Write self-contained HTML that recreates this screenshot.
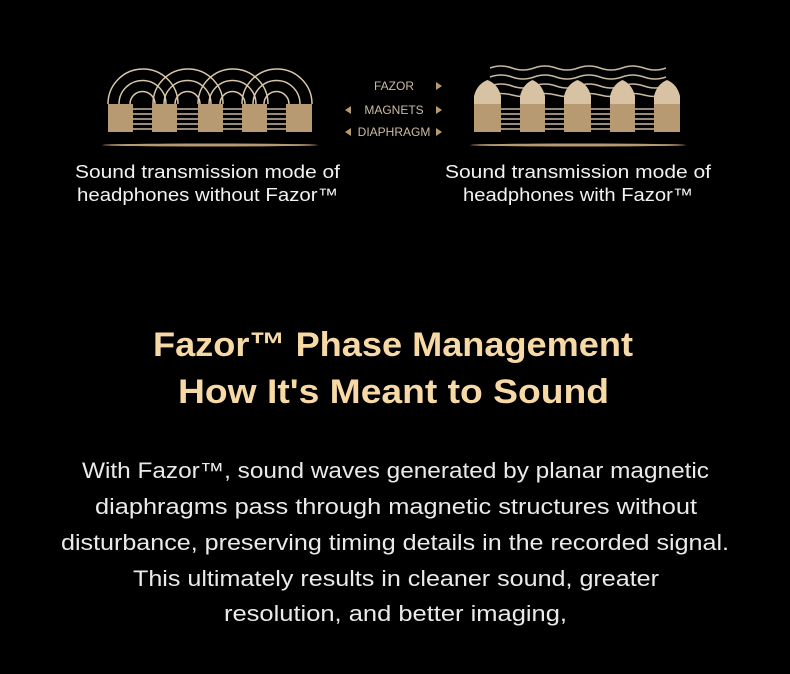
<!DOCTYPE html>
<html><head><meta charset="utf-8"><style>
html,body{margin:0;padding:0;background:#000;}
svg{display:block}
text{font-family:"Liberation Sans",sans-serif;}
</style></head><body>
<svg width="790" height="674" viewBox="0 0 790 674" xmlns="http://www.w3.org/2000/svg">
<rect width="790" height="674" fill="#000"/>
<!-- LEFT DIAGRAM -->
<g fill="#b89a72">
<rect x="108" y="104" width="25" height="28"/>
<rect x="152" y="104" width="25" height="28"/>
<rect x="198" y="104" width="25" height="28"/>
<rect x="242" y="104" width="25" height="28"/>
<rect x="286" y="104" width="26" height="28"/>
</g>
<g stroke="#c9b9a0" stroke-width="1.5">
<path d="M133 109H152M133 114H152M133 119H152M133 124H152M133 129H152"/>
<path d="M177 109H198M177 114H198M177 119H198M177 124H198M177 129H198"/>
<path d="M223 109H242M223 114H242M223 119H242M223 124H242M223 129H242"/>
<path d="M267 109H286M267 114H286M267 119H286M267 124H286M267 129H286"/>
</g>
<g fill="none" stroke="#d8c7ab" stroke-width="1.5">
<path d="M130 104A12.5 12.5 0 0 1 155 104M119 104A23.5 23.5 0 0 1 166 104M108 104A35 35 0 0 1 178 104"/>
<path d="M175 104A12.5 12.5 0 0 1 200 104M164 104A23.5 23.5 0 0 1 211 104M153 104A35 35 0 0 1 223 104"/>
<path d="M220 104A12.5 12.5 0 0 1 245 104M209 104A23.5 23.5 0 0 1 256 104M198 104A35 35 0 0 1 268 104"/>
<path d="M264 104A12.5 12.5 0 0 1 289 104M253 104A23.5 23.5 0 0 1 300 104M242 104A35 35 0 0 1 312 104"/>
</g>
<ellipse cx="210" cy="145" rx="108" ry="1.5" fill="#b89a72"/>
<!-- RIGHT DIAGRAM -->
<g fill="none" stroke="#c9b9a0" stroke-width="1.5">
<path d="M490 68q11-4 22 0t22 0t22 0t22 0t22 0t22 0t22 0t22 0"/>
<path d="M490 77q11-4 22 0t22 0t22 0t22 0t22 0t22 0t22 0t22 0"/>
<path d="M490 86q11-4 22 0t22 0t22 0t22 0t22 0t22 0t22 0t22 0"/>
<path d="M490 95q11-3 22 0t22 0t22 0t22 0t22 0t22 0t22 0t22 0"/>
</g>
<g stroke="#c9b9a0" stroke-width="1.5">
<path d="M501 109H520M501 114H520M501 119H520M501 124H520M501 129H520"/>
<path d="M545 109H564M545 114H564M545 119H564M545 124H564M545 129H564"/>
<path d="M591 109H610M591 114H610M591 119H610M591 124H610M591 129H610"/>
<path d="M635 109H654M635 114H654M635 119H654M635 124H654M635 129H654"/>
</g>
<g>
<path d="M474 104V96Q477 84 487.5 80Q498 84 501 96V104Z" fill="#d8c2a4"/>
<path d="M520 104V96Q523 84 532.5 80Q542 84 545 96V104Z" fill="#d8c2a4"/>
<path d="M564 104V96Q567 84 577.5 80Q588 84 591 96V104Z" fill="#d8c2a4"/>
<path d="M610 104V96Q613 84 622.5 80Q632 84 635 96V104Z" fill="#d8c2a4"/>
<path d="M654 104V96Q657 84 667 80Q677 84 680 96V104Z" fill="#d8c2a4"/>
</g>
<g fill="#b89a72">
<rect x="474" y="104" width="27" height="28"/>
<rect x="520" y="104" width="25" height="28"/>
<rect x="564" y="104" width="27" height="28"/>
<rect x="610" y="104" width="25" height="28"/>
<rect x="654" y="104" width="26" height="28"/>
</g>
<ellipse cx="578" cy="145" rx="108" ry="1.5" fill="#b89a72"/>
<!-- labels -->
<g fill="#cbbba3" font-size="12">
<text x="394" y="90" text-anchor="middle">FAZOR</text>
<text x="394" y="114" text-anchor="middle">MAGNETS</text>
<text x="394" y="136" text-anchor="middle">DIAPHRAGM</text>
</g>
<g fill="#b89a72">
<path d="M436 82l6 4l-6 4z"/>
<path d="M436 106l6 4l-6 4z"/>
<path d="M436 128l6 4l-6 4z"/>
<path d="M351 106l-6 4l6 4z"/>
<path d="M351 128l-6 4l6 4z"/>
</g>
<!-- captions -->
<g fill="#f2f2f2" font-size="18">
<text x="75" y="178" textLength="265" lengthAdjust="spacingAndGlyphs">Sound transmission mode of</text>
<text x="77" y="201" textLength="261" lengthAdjust="spacingAndGlyphs">headphones without Fazor™</text>
<text x="445" y="178" textLength="266" lengthAdjust="spacingAndGlyphs">Sound transmission mode of</text>
<text x="463" y="201" textLength="230" lengthAdjust="spacingAndGlyphs">headphones with Fazor™</text>
</g>
<!-- heading -->
<g fill="#f7d9a6" font-size="34" font-weight="bold">
<text x="153" y="356" textLength="480" lengthAdjust="spacingAndGlyphs">Fazor™ Phase Management</text>
<text x="178" y="403" textLength="431" lengthAdjust="spacingAndGlyphs">How It's Meant to Sound</text>
</g>
<!-- body -->
<g fill="#eaeaea" font-size="22">
<text x="82" y="478" textLength="627" lengthAdjust="spacingAndGlyphs">With Fazor™, sound waves generated by planar magnetic</text>
<text x="95" y="514" textLength="602" lengthAdjust="spacingAndGlyphs">diaphragms pass through magnetic structures without</text>
<text x="61" y="550" textLength="668" lengthAdjust="spacingAndGlyphs">disturbance, preserving timing details in the recorded signal.</text>
<text x="133" y="586" textLength="526" lengthAdjust="spacingAndGlyphs">This ultimately results in cleaner sound, greater</text>
<text x="224" y="621" textLength="343" lengthAdjust="spacingAndGlyphs">resolution, and better imaging,</text>
</g>
</svg>
</body></html>
